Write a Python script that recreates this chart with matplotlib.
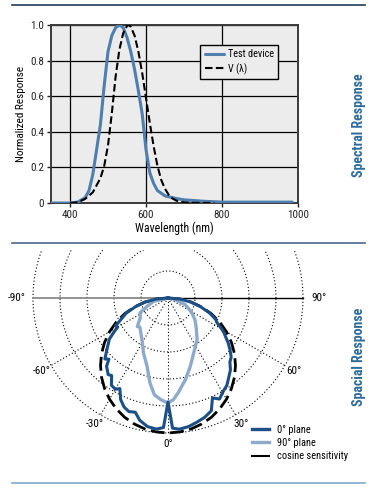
import numpy as np
import matplotlib
matplotlib.use("Agg")
import matplotlib.pyplot as plt
from matplotlib.lines import Line2D

plt.rcParams['font.family'] = ['Roboto Condensed', 'Noto Sans', 'DejaVu Sans']
plt.rcParams['font.stretch'] = 'condensed'
plt.rcParams['font.size'] = 8

# ---- data: spectral response ---------------------------------------------
WL_TEST = [350, 400, 420, 440, 450, 460, 470, 480, 490, 500, 510, 520, 530,
           540, 550, 560, 570, 580, 590, 600, 610, 620, 630, 650, 680, 700,
           750, 800, 985]
R_TEST = [0.0, 0.0, 0.005, 0.03, 0.07, 0.16, 0.30, 0.44, 0.66, 0.85, 0.94,
          0.985, 1.0, 0.985, 0.93, 0.85, 0.75, 0.63, 0.50, 0.30, 0.17, 0.11,
          0.07, 0.04, 0.025, 0.018, 0.01, 0.005, 0.005]
WL_V = [400, 420, 440, 460, 480, 490, 500, 510, 520, 530, 540, 550, 555, 560,
        570, 580, 590, 600, 610, 620, 630, 640, 650, 660, 670, 680, 690, 700,
        720, 780]
R_V = [0.0004, 0.004, 0.023, 0.06, 0.139, 0.208, 0.323, 0.503, 0.71, 0.862,
       0.954, 0.995, 1.0, 0.99, 0.94, 0.85, 0.73, 0.59, 0.45, 0.32, 0.21, 0.13,
       0.08, 0.045, 0.025, 0.013, 0.007, 0.004, 0.001, 0.0]
X_TICKS = [400, 600, 800, 1000]
Y_TICKS = [0, 0.2, 0.4, 0.6, 0.8, 1.0]
Y_LABELS = ["0", "0.2", "0.4", "0.6", "0.8", "1.0"]

# ---- data: spatial response (angle in deg, 0 = straight down) -------------
ANG_0 = [-90, -85, -80, -75, -70, -65, -62, -60, -58, -55, -50, -46, -44, -42,
         -38, -36, -33, -30, -28, -25, -22, -19, -16, -13, -9, -5, -2, 0, 2, 5,
         9, 13, 17, 21, 24, 27, 31, 34, 37, 41, 44, 47, 50, 53, 56, 58, 60, 63,
         66, 70, 75, 80, 85, 90]
R_0 = [0.0, 0.09, 0.17, 0.25, 0.33, 0.39, 0.44, 0.43, 0.47, 0.53, 0.59, 0.65,
       0.63, 0.68, 0.72, 0.71, 0.77, 0.78, 0.76, 0.83, 0.87, 0.89, 0.88, 0.93,
       0.965, 0.975, 0.96, 0.77, 0.965, 0.975, 0.965, 0.945, 0.925, 0.895,
       0.81, 0.84, 0.80, 0.78, 0.745, 0.705, 0.66, 0.64, 0.60, 0.56, 0.515,
       0.49, 0.46, 0.41, 0.385, 0.33, 0.25, 0.17, 0.09, 0.0]
ANG_90 = [-90, -77, -68, -62, -55, -47, -44, -32, -24, -17, -12, -8, -4, 0,
          3, 6, 12, 18, 25, 35, 44, 51, 58, 69, 78, 90]
R_90 = [0.0, 0.11, 0.17, 0.235, 0.25, 0.31, 0.30, 0.364, 0.446, 0.53, 0.643,
        0.724, 0.755, 0.778, 0.754, 0.708, 0.619, 0.533, 0.45, 0.376, 0.30,
        0.257, 0.21, 0.137, 0.05, 0.0]
ANG_COS = [-90, -85, -80, -75, -70, -65, -60, -55, -50, -45, -40, -35, -30,
           -25, -20, -15, -10, -5, 0, 5, 10, 15, 20, 25, 30, 35, 40, 45, 50,
           55, 60, 65, 70, 75, 80, 85, 90]
R_COS = [0.0, 0.087, 0.174, 0.259, 0.342, 0.423, 0.5, 0.574, 0.643, 0.707,
         0.766, 0.819, 0.866, 0.906, 0.940, 0.966, 0.985, 0.996, 1.0, 0.996,
         0.985, 0.966, 0.940, 0.906, 0.866, 0.819, 0.766, 0.707, 0.643, 0.574,
         0.5, 0.423, 0.342, 0.259, 0.174, 0.087, 0.0]
RINGS = [0.2, 0.4, 0.6, 0.8, 1.0]
SPOKES = [-60, -30, 0, 30, 60]
ANG_LABELS = [-90, -60, -30, 0, 30, 60, 90]

BLUE_TEST = "#4f7fae"
DARK = "#1c4f86"
LIGHT = "#8eaaca"
SIDE = "#2e6a9a"


def to_xy(ang, r):
    a = np.radians(np.asarray(ang, float))
    r = np.asarray(r, float)
    return r * np.sin(a), -r * np.cos(a)


fig = plt.figure(figsize=(3.75, 4.92), dpi=100)

# ---- top: spectral response ----------------------------------------------
ax = fig.add_axes([51 / 375, 1 - 203 / 492, 247 / 375, 178 / 492])
ax.set_facecolor("#ececec")
ax.plot(WL_TEST, R_TEST, color=BLUE_TEST, lw=2.2, label="Test device",
        solid_capstyle="round", zorder=3)
ax.plot(WL_V, R_V, color="black", lw=1.5, dashes=(3.6, 1.6), label="V (λ)",
        zorder=4)
ax.set_xlim(350, 1000)
ax.set_ylim(0, 1.0)
ax.set_xticks(X_TICKS)
ax.set_yticks(Y_TICKS)
ax.set_yticklabels(Y_LABELS)
ax.tick_params(length=3, width=1, pad=2, labelsize=8, colors="#222222")
ax.grid(True, color="black", lw=0.9)
ax.set_axisbelow(True)
for s in ax.spines.values():
    s.set_color("#3a3a3a")
    s.set_linewidth(1.4)
ax.set_xlabel("Wavelength (nm)", fontsize=8.5, labelpad=1)
ax.set_ylabel("Normalized Response", fontsize=8, labelpad=3)
leg = ax.legend(loc="upper left", bbox_to_anchor=(0.603, 0.888),
                borderaxespad=0, fancybox=False, framealpha=1,
                facecolor="#ececec", edgecolor="black", fontsize=7.3,
                handlelength=1.9, handletextpad=0.4, labelspacing=0.35,
                borderpad=0.45)
leg.get_frame().set_linewidth(1.0)

# ---- bottom: spatial response --------------------------------------------
ax2 = fig.add_axes([0, 22 / 492, 336 / 375, 220 / 492])
ax2.set_xlim(-168 / 135, 168 / 135)
ax2.set_ylim(-172 / 135, 48 / 135)
ax2.axis("off")

t = np.linspace(0, 2 * np.pi, 361)
for r in RINGS:
    ax2.plot(r * np.cos(t), r * np.sin(t), color="black", lw=0.8,
             ls=(0, (1, 2)), zorder=1)
for a in SPOKES:
    x, y = to_xy([a, a], [0, 1.0])
    ax2.plot(x, y, color="black", lw=0.8, ls=(0, (1, 2)), zorder=1)
ax2.plot([-1.0, 0], [0, 0], color="#808080", lw=1.2, zorder=1)
ax2.plot([0, 1.0], [0, 0], color="black", lw=1.0, zorder=1)

x, y = to_xy(ANG_COS, R_COS)
ax2.plot(x, y, color="black", lw=2.0, dashes=(5, 2), zorder=2)
x, y = to_xy(ANG_90, R_90)
ax2.plot(x, y, color=LIGHT, lw=2.4, zorder=3)
x, y = to_xy(ANG_0, R_0)
ax2.plot(x, y, color=DARK, lw=2.2, zorder=4)

for a in ANG_LABELS:
    rr = 1.12 if abs(a) == 90 else 1.08
    x, y = to_xy([a], [rr])
    ax2.text(x[0], y[0], f"{a}°", ha="center", va="center", fontsize=8)

handles = [Line2D([], [], color=DARK, lw=2.4),
           Line2D([], [], color=LIGHT, lw=2.4),
           Line2D([], [], color="black", lw=1.5)]
fig.legend(handles, ["0° plane", "90° plane", "cosine sensitivity"],
           loc="upper left", bbox_to_anchor=(252 / 375, 1 - 425 / 492),
           frameon=False, fontsize=7.5, handlelength=1.6, handletextpad=0.8,
           labelspacing=0.3, borderaxespad=0, borderpad=0)

# ---- rules and side titles -----------------------------------------------
for yy, col in [(5, "#1f3f5a"), (243, "#4a6a8a"), (483, "#7fa8cc")]:
    fig.add_artist(Line2D([12 / 375, 365 / 375], [1 - yy / 492] * 2,
                          color=col, lw=1.2))
fig.text(359 / 375, 1 - 125 / 492, "Spectral Response", rotation=90,
         ha="center", va="center", color=SIDE, fontsize=10, fontweight="bold")
fig.text(359 / 375, 1 - 357 / 492, "Spacial Response", rotation=90,
         ha="center", va="center", color=SIDE, fontsize=10, fontweight="bold")

fig.savefig("out.png", dpi=100)
